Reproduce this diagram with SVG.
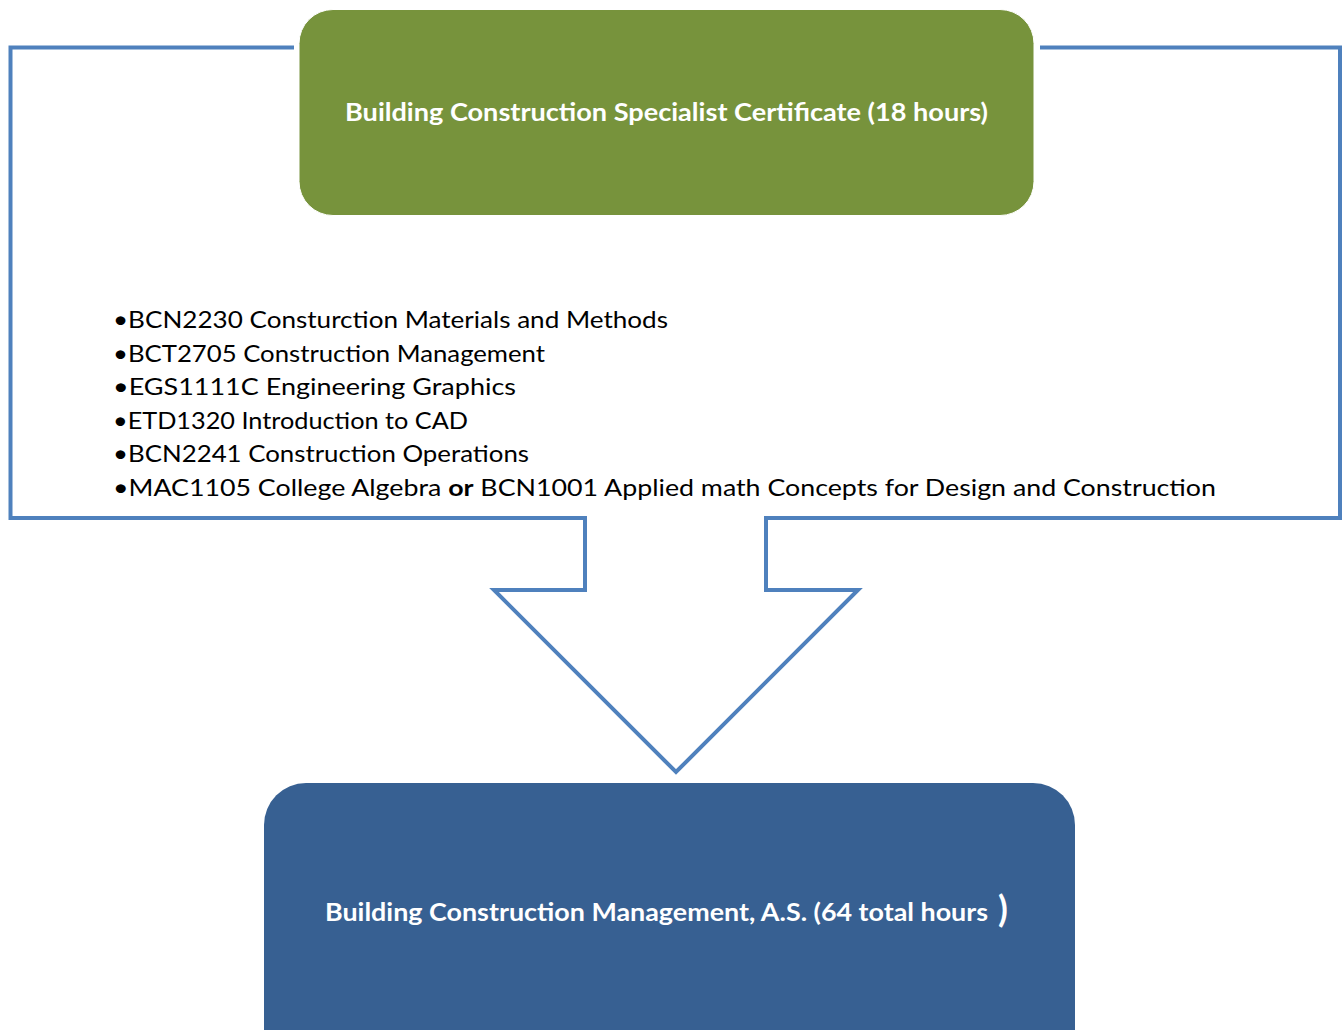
<svg xmlns="http://www.w3.org/2000/svg" width="1343" height="1030" viewBox="0 0 1343 1030">
  <style>
    .item { font-family: "Lato", "Liberation Sans", sans-serif; font-size: 23px; fill: #000000; }
    .title { font-family: "Lato", "Liberation Sans", sans-serif; font-size: 25px; font-weight: bold; fill: #FFFFFF; }
    .bigparen { font-size: 36px; font-weight: bold; }
  </style>
  <rect x="0" y="0" width="1343" height="1030" fill="#FFFFFF"/>
  <g id="connectors">
    <path id="bracket-arrow" d="M294,47.5 H10.5 V518 H585 V590 H494 L676,772 L858,590 H766 V518 H1340 V47.5 H1040" fill="none" stroke="#4F81BD" stroke-width="4" stroke-linejoin="miter"/>
  </g>
  <g id="node-certificate">
    <rect x="299" y="9.5" width="735" height="206" rx="34" ry="34" fill="#77933C" stroke="#FFFFFF" stroke-width="1"/>
    <text class="title" x="345" y="121" textLength="643" lengthAdjust="spacingAndGlyphs">Building Construction Specialist Certificate (18 hours)</text>
  </g>
  <g id="node-courses">
    <text class="item" x="113" y="327.5" textLength="555" lengthAdjust="spacingAndGlyphs">•BCN2230 Consturction Materials and Methods</text>
    <text class="item" x="113" y="361.5" textLength="432" lengthAdjust="spacingAndGlyphs">•BCT2705 Construction Management</text>
    <text class="item" x="113" y="395" textLength="403" lengthAdjust="spacingAndGlyphs">•EGS1111C Engineering Graphics</text>
    <text class="item" x="113" y="428.5" textLength="355" lengthAdjust="spacingAndGlyphs">•ETD1320 Introduction to CAD</text>
    <text class="item" x="113" y="462" textLength="416" lengthAdjust="spacingAndGlyphs">•BCN2241 Construction Operations</text>
    <text class="item" x="113" y="495.5" textLength="1103" lengthAdjust="spacingAndGlyphs">•MAC1105 College Algebra <tspan font-weight="bold">or</tspan> BCN1001 Applied math Concepts for Design and Construction</text>
  </g>
  <g id="node-degree">
    <rect x="264" y="783" width="811" height="290" rx="42" ry="42" fill="#376092"/>
    <text class="title" x="325" y="921" textLength="663" lengthAdjust="spacingAndGlyphs">Building Construction Management, A.S. (64 total hours</text>
    <text class="title bigparen" x="998" y="922">)</text>
  </g>
</svg>
